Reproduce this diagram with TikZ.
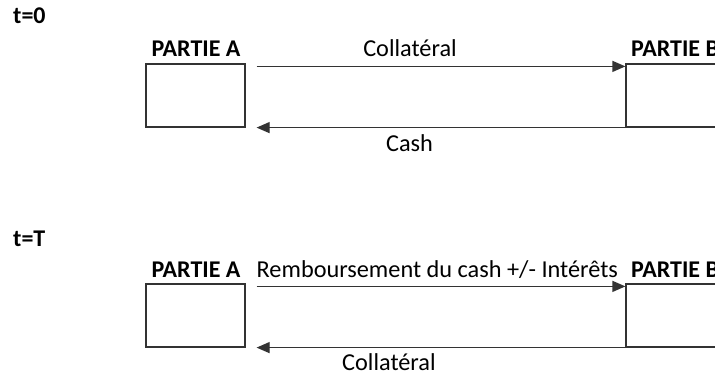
\documentclass[tikz,border=0pt]{standalone}
\usepackage{fontspec}
\setmainfont{Carlito}
\usetikzlibrary{arrows.meta}

\tikzset{
  party/.style={draw=black!80, line width=1.2pt, minimum width=99pt, minimum height=63pt, inner sep=0pt},
  partylabel/.style={font=\fontsize{24}{28}\selectfont\bfseries, anchor=base, inner sep=0pt},
  timelabel/.style={font=\fontsize{24}{28}\selectfont\bfseries, anchor=base west, inner sep=0pt},
  flowlabel/.style={font=\fontsize{24.3}{28}\selectfont, inner sep=0pt},
  flow/.style={draw=black!80, line width=1.2pt, -{Triangle[length=13pt,width=11pt]}}
}

\begin{document}
\begin{tikzpicture}[x=1pt,y=-1pt]
  \useasboundingbox (0,0) rectangle (715,377);

  % ---- t = 0 : collateral against cash ----
  \node[timelabel] (t0) at (13,24) {t=0};
  \node[party] (A0) at (195.5,95.5) {};
  \node[party] (B0) at (675.5,95.5) {};
  \node[partylabel] (LA0) at (196,57) {PARTIE A};
  \node[partylabel, anchor=base west] (LB0) at (631,57) {PARTIE B};
  \draw[flow] ([xshift=11pt,yshift=-3pt]A0.north east) -- ([yshift=-3pt]B0.north west);
  \draw[flow] (B0.south west) -- ([xshift=11pt]A0.south east);
  \node[flowlabel, anchor=base] (c0) at (410,57) {Collatéral};
  \node[flowlabel, anchor=base] (k0) at (409.5,151.5) {Cash};

  % ---- t = T : cash repaid, collateral returned ----
  \node[timelabel] (tT) at (13,246) {t=T};
  \node[party] (A1) at (195.5,315.5) {};
  \node[party] (B1) at (675.5,315.5) {};
  \node[partylabel] (LA1) at (196,277) {PARTIE A};
  \node[partylabel, anchor=base west] (LB1) at (631,277) {PARTIE B};
  \draw[flow] ([xshift=11pt,yshift=-3pt]A1.north east) -- ([yshift=-3pt]B1.north west);
  \draw[flow] (B1.south west) -- ([xshift=11pt]A1.south east);
  \node[flowlabel, anchor=base west] (r1) at (256.5,277) {Remboursement du cash +/- Intérêts};
  \node[flowlabel, anchor=base west] (c1) at (342,370) {Collatéral};
\end{tikzpicture}
\end{document}
